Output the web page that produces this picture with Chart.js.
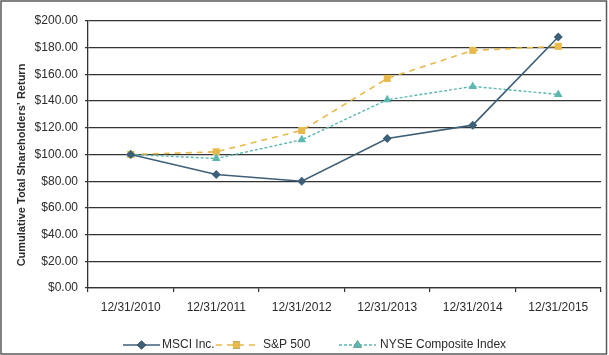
<!DOCTYPE html>
<html>
<head>
<meta charset="utf-8">
<script src="https://cdn.jsdelivr.net/npm/chart.js@4"></script>
<style>
  html, body { margin: 0; padding: 0; background: #fff; }
  #wrap { width: 609px; height: 355px; position: relative; }
</style>
</head>
<body>
<div id="wrap"><canvas id="c" width="609" height="355"></canvas></div>
<script>
const categories = ['12/31/2010', '12/31/2011', '12/31/2012', '12/31/2013', '12/31/2014', '12/31/2015'];
const msciValues = [100, 85, 80, 112, 122, 188];
const spValues = [100, 102, 118, 157, 178, 181];
const nyseValues = [100, 97, 111, 141, 151, 145];
const seriesNames = ['MSCI Inc.', 'S&P 500', 'NYSE Composite Index'];
const yAxisTitle = 'Cumulative Total Shareholders\u2019 Return';

const FONT = '"Liberation Sans", Arial, Helvetica, sans-serif';
const TEXT = '#2b2b2b';

const frameAndLabels = {
  id: 'frameAndLabels',
  afterDraw(chart) {
    const ctx = chart.ctx;
    ctx.save();
    // outer frame
    ctx.strokeStyle = '#5a5a5a';
    ctx.lineWidth = 1.5;
    ctx.strokeRect(1, 1, 605.5, 353);
    // y axis title
    ctx.fillStyle = TEXT;
    ctx.font = 'bold 11px ' + FONT;
    ctx.textAlign = 'center';
    ctx.textBaseline = 'middle';
    ctx.translate(22, 165);
    ctx.rotate(-Math.PI / 2);
    ctx.fillText(yAxisTitle, 0, 0);
    ctx.restore();

    // legend
    ctx.save();
    const items = [
      { x0: 123, x1: 160, tx: 162 },
      { x0: 216, x1: 257, tx: 263 },
      { x0: 339, x1: 376, tx: 380 }
    ];
    const ly = 345;
    chart.data.datasets.forEach((ds, i) => {
      const it = items[i];
      ctx.strokeStyle = ds.borderColor;
      ctx.lineWidth = ds.borderWidth;
      ctx.setLineDash(ds.borderDash || []);
      ctx.beginPath();
      ctx.moveTo(it.x0, ly);
      ctx.lineTo(it.x1, ly);
      ctx.stroke();
      ctx.setLineDash([]);
      const mx = (it.x0 + it.x1) / 2;
      Chart.helpers.drawPoint(ctx, {
        pointStyle: ds.pointStyle,
        radius: ds.pointRadius,
        rotation: 0,
        borderWidth: 0
      }, mx, ly);
      ctx.fillStyle = ds.pointBackgroundColor;
      ctx.fill();
      ctx.fillStyle = TEXT;
      ctx.font = '12px ' + FONT;
      ctx.textAlign = 'left';
      ctx.textBaseline = 'middle';
      ctx.fillText(ds.label, it.tx, ly);
    });
    ctx.restore();
  }
};

new Chart(document.getElementById('c'), {
  type: 'line',
  data: {
    labels: categories,
    datasets: [
      {
        label: seriesNames[0],
        data: msciValues,
        borderColor: '#3e5f78',
        backgroundColor: '#3e5f78',
        pointBackgroundColor: '#3e5f78',
        pointBorderColor: '#3e5f78',
        borderWidth: 1.6,
        pointStyle: 'rectRot',
        pointRadius: 4.5,
        pointBorderWidth: 0,
        order: 0
      },
      {
        label: seriesNames[1],
        data: spValues,
        borderColor: '#e8b94b',
        backgroundColor: '#e8b94b',
        pointBackgroundColor: '#e8b94b',
        pointBorderColor: '#e8b94b',
        borderWidth: 1.6,
        borderDash: [6, 5],
        pointStyle: 'rect',
        pointRadius: 5,
        pointBorderWidth: 0,
        order: 2
      },
      {
        label: seriesNames[2],
        data: nyseValues,
        borderColor: '#5cb8b1',
        backgroundColor: '#5cb8b1',
        pointBackgroundColor: '#5cb8b1',
        pointBorderColor: '#5cb8b1',
        borderWidth: 1.4,
        borderDash: [3, 2],
        pointStyle: 'triangle',
        pointRadius: 5,
        pointBorderWidth: 0,
        order: 1
      }
    ]
  },
  options: {
    responsive: false,
    animation: false,
    devicePixelRatio: 1,
    layout: { padding: { left: 0, right: 8, top: 21, bottom: 0 } },
    plugins: {
      legend: { display: false },
      tooltip: { enabled: false },
      title: { display: false }
    },
    elements: { line: { tension: 0 } },
    scales: {
      x: {
        type: 'category',
        offset: true,
        grid: {
          offset: true,
          drawOnChartArea: false,
          drawTicks: true,
          tickLength: 4,
          color: '#333',
          lineWidth: 1.2
        },
        border: { display: true, color: '#333', width: 1.3 },
        ticks: {
          color: TEXT,
          font: { family: FONT, size: 12 },
          padding: 8,
          maxRotation: 0,
          autoSkip: false
        },
        afterFit(scale) { scale.height = 67; }
      },
      y: {
        min: 0,
        max: 200,
        ticks: {
          stepSize: 20,
          color: TEXT,
          font: { family: FONT, size: 12 },
          padding: 7,
          callback: (v) => '$' + Number(v).toFixed(2)
        },
        grid: {
          color: '#333',
          lineWidth: 1.3,
          drawTicks: true,
          tickLength: 3
        },
        border: { display: true, color: '#333', width: 1.3 },
        afterFit(scale) { scale.width = 88; }
      }
    }
  },
  plugins: [frameAndLabels]
});
</script>
</body>
</html>
